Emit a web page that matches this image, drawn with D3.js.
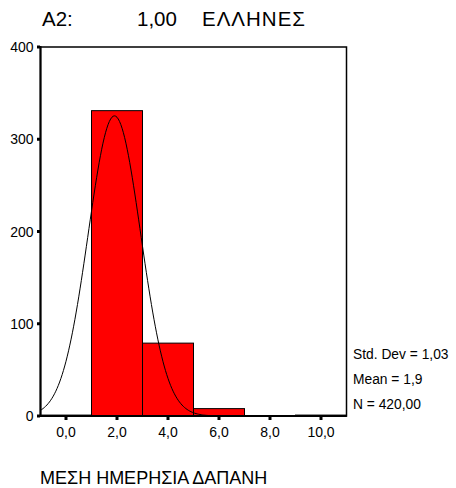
<!DOCTYPE html>
<html>
<head>
<meta charset="utf-8">
<script src="https://cdn.jsdelivr.net/npm/d3@7"></script>
<style>
  body { margin: 0; background: #fff; }
  text { font-family: Arial, "Liberation Sans", sans-serif; fill: #000; }
</style>
</head>
<body>
<svg width="456" height="488"></svg>
<script>
// histogram bins (lower edge, width 2) and counts
var binStarts = [-1, 1, 3, 5, 7, 9];
var binWidth = 2;
var counts = [1, 331, 79, 8, 0, 1];

var xTicks = [0, 2, 4, 6, 8, 10];
var yTicks = [0, 100, 200, 300, 400];

// summary stats shown on the right
var statLabels = ["Std. Dev = 1,03", "Mean = 1,9", "N = 420,00"];
var stdDev = 1.03, mean = 1.9, nCases = 420;

var titleParts = ["A2:", "1,00", "ΕΛΛΗΝΕΣ"];
var xTitle = "ΜΕΣΗ ΗΜΕΡΗΣΙΑ ΔΑΠΑΝΗ";

var svg = d3.select("svg");
svg.append("rect").attr("width", 456).attr("height", 488).attr("fill", "#fff");

var x = d3.scaleLinear().domain([-1, 11]).range([40.5, 346.5]);
var y = d3.scaleLinear().domain([0, 400]).range([416, 47]);

// frame
svg.append("rect")
    .attr("x", x(-1)).attr("y", y(400))
    .attr("width", x(11) - x(-1)).attr("height", y(0) - y(400))
    .attr("fill", "none").attr("stroke", "#000").attr("stroke-width", 1.5);

// bars
svg.selectAll(".bar")
    .data(counts)
    .enter().append("rect")
    .attr("class", "bar")
    .attr("x", function(d, i) { return x(binStarts[i]); })
    .attr("width", function(d, i) { return x(binStarts[i] + binWidth) - x(binStarts[i]); })
    .attr("y", function(d) { return y(d); })
    .attr("height", function(d) { return y(0) - y(d); })
    .attr("fill", "#ff0000")
    .attr("stroke", "#000")
    .attr("stroke-width", 1)
    .style("display", function(d) { return d > 0 ? null : "none"; });

// normal curve from the stats
var curvePts = d3.range(-1, 11.001, 0.05).map(function(v) {
    var z = (v - mean) / stdDev;
    return [v, nCases * binWidth / (stdDev * Math.sqrt(2 * Math.PI)) * Math.exp(-0.5 * z * z)];
});
svg.append("path")
    .datum(curvePts)
    .attr("fill", "none")
    .attr("stroke", "#000")
    .attr("stroke-width", 1)
    .attr("d", d3.line().x(function(d) { return x(d[0]); }).y(function(d) { return y(d[1]); }));

// left and bottom axis lines, a bit heavier
svg.append("line").attr("x1", x(-1)).attr("x2", x(-1)).attr("y1", y(400) - 1).attr("y2", y(0) + 1)
    .attr("stroke", "#000").attr("stroke-width", 2);
svg.append("line").attr("x1", x(-1) - 1).attr("x2", x(11)).attr("y1", y(0)).attr("y2", y(0))
    .attr("stroke", "#000").attr("stroke-width", 2);

// y ticks
svg.selectAll(".ytick").data(yTicks).enter().append("rect")
    .attr("x", x(-1) - 3.5).attr("y", function(d) { return y(d) - 1.5; })
    .attr("width", 3).attr("height", 3).attr("fill", "#000");
svg.selectAll(".ylab").data(yTicks).enter().append("text")
    .attr("x", 33.5).attr("y", function(d) { return y(d) + 5; })
    .attr("text-anchor", "end").attr("font-size", 14)
    .text(function(d) { return d; });

// x ticks
svg.selectAll(".xtick").data(xTicks).enter().append("rect")
    .attr("x", function(d) { return x(d) - 1.5; }).attr("y", y(0) + 1)
    .attr("width", 3).attr("height", 3).attr("fill", "#000");
svg.selectAll(".xlab").data(xTicks).enter().append("text")
    .attr("x", function(d) { return x(d); }).attr("y", 436.5)
    .attr("text-anchor", "middle").attr("font-size", 14)
    .text(function(d) { return d3.format(".1f")(d).replace(".", ","); });

// stats
svg.selectAll(".stat").data(statLabels).enter().append("text")
    .attr("x", 353).attr("y", function(d, i) { return 358.5 + i * 25; })
    .attr("font-size", 13.8)
    .text(function(d) { return d; });

// title
var titleX = [42, 137, 202];
svg.selectAll(".title").data(titleParts).enter().append("text")
    .attr("x", function(d, i) { return titleX[i]; }).attr("y", 26)
    .attr("font-size", 20.5)
    .attr("textLength", function(d, i) { return i == 2 ? 103 : null; })
    .text(function(d) { return d; });

svg.append("text")
    .attr("x", 40).attr("y", 484)
    .attr("font-size", 18)
    .text(xTitle);
</script>
</body>
</html>
